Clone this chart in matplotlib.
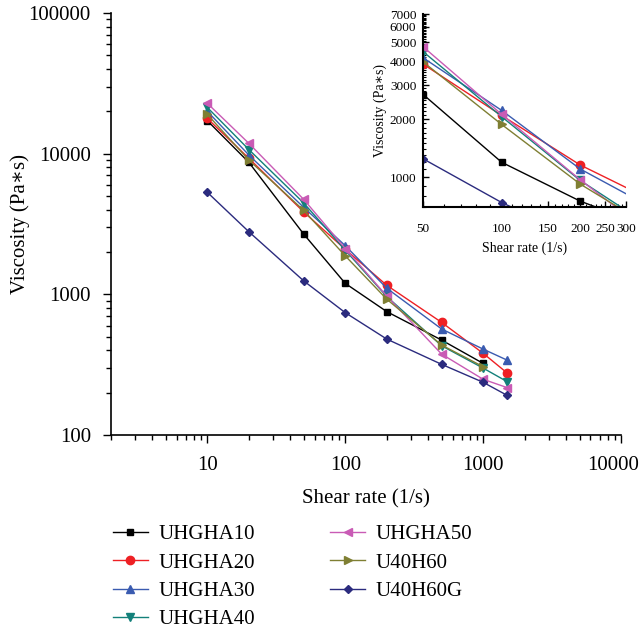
import numpy as np
import matplotlib.pyplot as plt
import matplotlib.transforms as mtrans
from matplotlib.ticker import LogLocator, FixedLocator, FuncFormatter, NullFormatter

plt.rcParams['font.family'] = ['Liberation Serif', 'DejaVu Serif']

# shear rates (1/s)
rate = [10, 20, 50, 100, 200, 500, 1000, 1500]

# viscosity (Pa*s)
uhgha10 = [17150, 8670, 2680, 1197, 754, 473, 323]
uhgha20 = [17800, 9270, 3850, 2090, 1160, 632, 381, 275]
uhgha30 = [20000, 9780, 4150, 2220, 1106, 567, 408, 340]
uhgha40 = [21300, 10700, 4460, 2060, 965, 431, 299, 239]
uhgha50 = [22800, 11840, 4730, 2117, 973, 376, 249, 217]
u40h60 = [19000, 9000, 3950, 1878, 924, 436, 306]
u40h60g = [5310, 2786, 1246, 741, 481, 318, 237, 191]

names = ['UHGHA10', 'UHGHA20', 'UHGHA30', 'UHGHA40', 'UHGHA50', 'U40H60', 'U40H60G']
series = [uhgha10, uhgha20, uhgha30, uhgha40, uhgha50, u40h60, u40h60g]
colors = ['#000000', '#ee2024', '#3a5bb0', '#13807a', '#c95bb5', '#7f7f33', '#2b2b7e']
markers = ['s', 'o', '^', 'v', '<', '>', 'D']
msizes = [5, 6, 6, 6, 6, 6, 4.5]

fig = plt.figure(figsize=(6.43, 6.29), dpi=100)
ax = fig.add_axes([0.1726, 0.3084, 0.7932, 0.6709])

for name, ys, c, m, ms in zip(names, series, colors, markers, msizes):
    ax.plot(rate[:len(ys)], ys, color=c, marker=m, markersize=ms, linewidth=1, label=name)

ax.set_xscale('log')
ax.set_yscale('log')
ax.set_xlim(2, 10000)
ax.set_ylim(100, 100000)
fmt = FuncFormatter(lambda v, p: '%d' % v)
ax.xaxis.set_major_locator(FixedLocator([10, 100, 1000, 10000]))
ax.xaxis.set_major_formatter(fmt)
ax.yaxis.set_major_formatter(fmt)
ax.xaxis.set_minor_locator(LogLocator(base=10, subs=np.arange(2, 10), numticks=20))
ax.yaxis.set_minor_locator(LogLocator(base=10, subs=np.arange(2, 10), numticks=20))
ax.xaxis.set_minor_formatter(NullFormatter())
ax.yaxis.set_minor_formatter(NullFormatter())
ax.tick_params(which='major', length=6, width=1, labelsize=15, direction='out')
ax.tick_params(which='minor', length=3.5, width=1, direction='out')
ax.tick_params(axis='x', which='major', pad=9)
ax.tick_params(axis='y', which='major', pad=8.5)
for s in ['top', 'right']:
    ax.spines[s].set_visible(False)
for s in ['left', 'bottom']:
    ax.spines[s].set_linewidth(1.2)
ax.set_xlabel('Shear rate (1/s)', fontsize=15, labelpad=10)
ax.set_ylabel('Viscosity (Pa\u2217s)', fontsize=15, labelpad=-1)

# nudge the last x label left so it stays inside the figure
fig.canvas.draw()
lab = ax.get_xticklabels()[-1]
lab.set_transform(lab.get_transform() + mtrans.ScaledTranslation(-6 / 72, 0, fig.dpi_scale_trans))

# inset
ins = fig.add_axes([0.6583, 0.6704, 0.3152, 0.3073])
for ys, c, m, ms in zip(series, colors, markers, msizes):
    ins.plot(rate[:len(ys)], ys, color=c, marker=m, markersize=ms, linewidth=1)
ins.set_xscale('log')
ins.set_yscale('log')
ins.set_xlim(50, 300)
ins.set_ylim(700, 7000)
ins.xaxis.set_major_locator(FixedLocator([50, 100, 150, 200, 250, 300]))
ins.yaxis.set_major_locator(FixedLocator([1000, 2000, 3000, 4000, 5000, 6000, 7000]))
ins.xaxis.set_major_formatter(fmt)
ins.yaxis.set_major_formatter(fmt)
ins.xaxis.set_minor_locator(FixedLocator(np.arange(50, 301, 10)))
ins.yaxis.set_minor_locator(FixedLocator(np.arange(700, 7001, 100)))
ins.xaxis.set_minor_formatter(NullFormatter())
ins.yaxis.set_minor_formatter(NullFormatter())
ins.tick_params(which='major', length=4, width=1, labelsize=9.5, direction='in')
ins.tick_params(which='minor', length=2, width=0.8, direction='in')
ins.tick_params(axis='x', pad=11)
ins.tick_params(axis='y', pad=5)
for s in ['top', 'right']:
    ins.spines[s].set_visible(False)
for s in ['left', 'bottom']:
    ins.spines[s].set_linewidth(1.5)
ins.set_xlabel('Shear rate (1/s)', fontsize=10, labelpad=5)
ins.set_ylabel('Viscosity (Pa\u2217s)', fontsize=10, labelpad=2)
ins.patch.set_alpha(0)

h, l = ax.get_legend_handles_labels()
fig.legend(h, l, loc='upper left', bbox_to_anchor=(0.175, 0.166), ncol=2, frameon=False,
           fontsize=15, handlelength=1.7, handletextpad=0.5, columnspacing=3.6,
           labelspacing=0.42, borderaxespad=0, borderpad=0)

fig.savefig('out.png', dpi=100)
